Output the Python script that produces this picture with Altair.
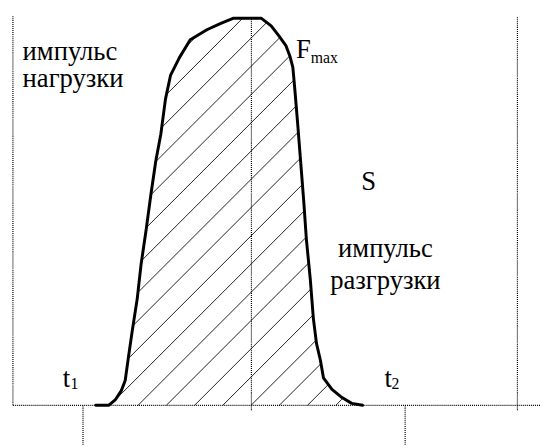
import numpy as np
import pandas as pd
import altair as alt

# ---- data (arbitrary units: time t, force F; F = 100 at peak) ----
t_curve = [21.4, 24.7, 26.5, 28.0, 29.0, 29.8, 30.8, 32.1, 33.1, 34.4, 35.6, 36.9,
           38.2, 39.4, 40.7, 43.0, 45.8, 50.1, 53.4, 57.0, 64.1, 66.7, 68.7, 70.5,
           71.5, 72.3, 72.8, 73.5, 74.3, 75.1, 75.8, 76.8, 77.6, 78.4, 79.4, 80.2,
           82.4, 85.0, 87.5, 90.3]
F_curve = [0.0, 0.0, 1.5, 3.8, 6.4, 12.2, 19.1, 27.5, 36.4, 45.3, 54.2, 63.1,
           70.0, 79.1, 85.2, 89.8, 94.4, 97.0, 98.5, 100.0, 100.0, 98.0, 95.4, 92.9,
           90.3, 87.3, 81.7, 73.3, 63.1, 52.9, 42.8, 32.6, 22.4, 16.0, 11.7, 7.1,
           4.1, 2.0, 0.5, 0.0]

# guide lines (t, t2, F, F2)
guide_t = [0.0, 61.6, 130.3, 18.1, 101.3, 0.0]
guide_t2 = [0.0, 61.6, 130.3, 18.1, 101.3, 136.2]
guide_F = [0.0, -1.3, -1.3, -10.2, -10.2, 0.0]
guide_F2 = [100.5, 100.0, 100.5, 0.0, 0.0, 0.0]

# hatch: 45-degree lines, baseline intercepts
hatch_c0 = 32.32
hatch_step = 7.295

# labels
label_text = ["импульс", "нагрузки", "S", "импульс", "разгрузки", "F", "t", "t"]
label_t = [2.5, 2.5, 91.9, 96.2, 96.2, 75.0, 13.8, 96.9]
label_F = [89.3, 82.2, 55.5, 38.4, 30.0, 89.8, 4.8, 4.8]
label_align = ["left", "left", "center", "center", "center", "center", "center", "center"]

sub_text = ["max", "1", "2"]
sub_t = [80.4, 15.9, 98.8]
sub_F = [88.5, 4.3, 4.3]

T_MIN, T_MAX = -1.27, 136.13
F_MIN, F_MAX = -10.18, 101.78

# ---- hatch segments clipped to the pulse shape ----
poly = list(zip(t_curve, F_curve))
segs = []
for k in range(-13, 10):
    c = hatch_c0 + k * hatch_step
    xs = []
    n = len(poly)
    for i in range(n):
        ta, Fa = poly[i]
        tb, Fb = poly[(i + 1) % n]
        g1 = Fa - ta + c
        g2 = Fb - tb + c
        if (g1 > 0) != (g2 > 0):
            s = g1 / (g1 - g2)
            xs.append(ta + s * (tb - ta))
    xs.sort()
    for j in range(0, len(xs) - 1, 2):
        segs.append({"t": xs[j], "F": xs[j] - c, "t2": xs[j + 1], "F2": xs[j + 1] - c})
hatch_df = pd.DataFrame(segs)

curve_df = pd.DataFrame({"t": t_curve, "F": F_curve, "i": range(len(t_curve))})
guide_df = pd.DataFrame({"t": guide_t, "t2": guide_t2, "F": guide_F, "F2": guide_F2})
label_df = pd.DataFrame({"text": label_text, "t": label_t, "F": label_F, "align": label_align})
sub_df = pd.DataFrame({"text": sub_text, "t": sub_t, "F": sub_F})

xs_ = alt.Scale(domain=[T_MIN, T_MAX], nice=False, zero=False)
ys_ = alt.Scale(domain=[F_MIN, F_MAX], nice=False, zero=False)

FONT = "Liberation Serif"

hatch = alt.Chart(hatch_df).mark_rule(color="#222222", strokeWidth=1).encode(
    x=alt.X("t:Q", scale=xs_, axis=None), x2="t2:Q",
    y=alt.Y("F:Q", scale=ys_, axis=None), y2="F2:Q")

guides = alt.Chart(guide_df).mark_rule(color="black", strokeWidth=1.2, strokeDash=[1, 1]).encode(
    x=alt.X("t:Q", scale=xs_, axis=None), x2="t2:Q",
    y=alt.Y("F:Q", scale=ys_, axis=None), y2="F2:Q")

curve = alt.Chart(curve_df).mark_line(color="black", strokeWidth=3, strokeJoin="round",
                                      strokeCap="round").encode(
    x=alt.X("t:Q", scale=xs_, axis=None),
    y=alt.Y("F:Q", scale=ys_, axis=None),
    order="i:Q")

left_labels = alt.Chart(label_df[label_df["align"] == "left"]).mark_text(
    font=FONT, fontSize=27, align="left", baseline="alphabetic", color="black").encode(
    x=alt.X("t:Q", scale=xs_, axis=None), y=alt.Y("F:Q", scale=ys_, axis=None), text="text:N")

center_labels = alt.Chart(label_df[label_df["align"] == "center"]).mark_text(
    font=FONT, fontSize=27, align="center", baseline="alphabetic", color="black").encode(
    x=alt.X("t:Q", scale=xs_, axis=None), y=alt.Y("F:Q", scale=ys_, axis=None), text="text:N")

subs = alt.Chart(sub_df).mark_text(
    font=FONT, fontSize=16, align="center", baseline="alphabetic", color="black").encode(
    x=alt.X("t:Q", scale=xs_, axis=None), y=alt.Y("F:Q", scale=ys_, axis=None), text="text:N")

chart = alt.layer(hatch, guides, curve, left_labels, center_labels, subs).properties(
    width=540, height=440, padding=0, autosize=alt.AutoSizeParams(type="none"),
    background="white"
).configure_view(stroke=None)

chart.save("out.html", embed_options={"renderer": "svg", "actions": False})
